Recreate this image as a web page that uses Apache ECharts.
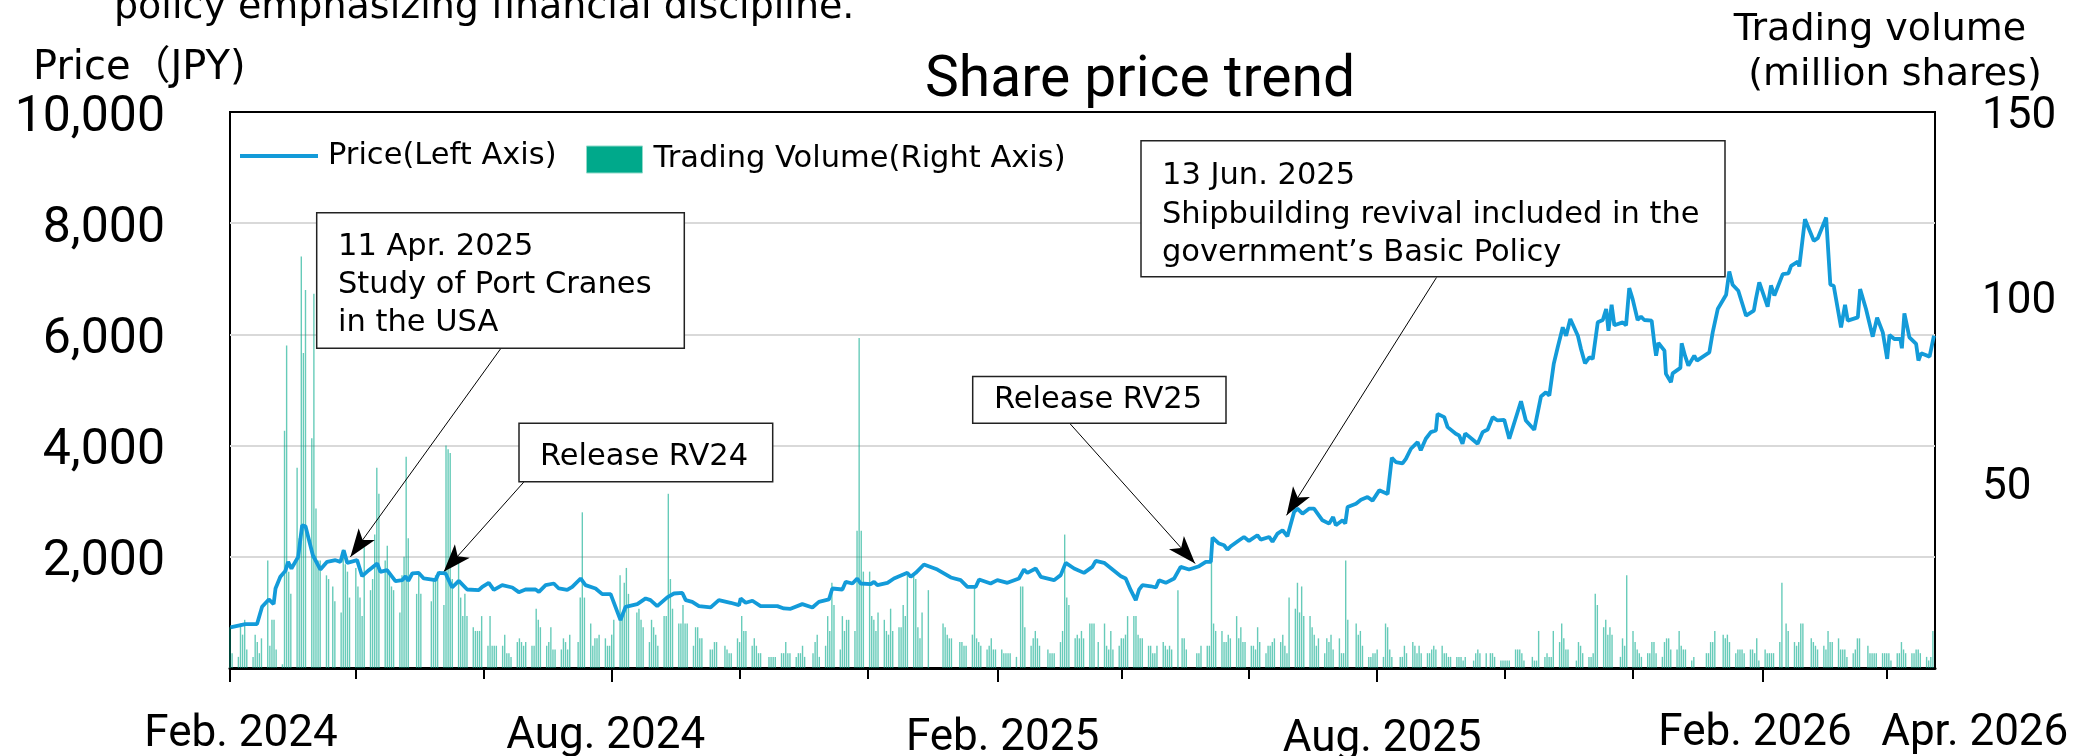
<!DOCTYPE html>
<html lang="en">
<head>
<meta charset="utf-8">
<title>Share price trend</title>
<style>
    html, body { margin: 0; padding: 0; background: #fff; }
</style>
</head>
<body>
<div id="main" style="width: 2094px;height:756px;"></div>
<script src="https://cdn.jsdelivr.net/npm/echarts@6/dist/echarts.min.js"></script>
<script>
    // x axis is "days since 1 Feb 2024"
    var START = Date.UTC(2024, 1, 1);
    var LAST_DAY = 812;
    function dayOf(s) { return (Date.parse(s + 'T00:00:00Z') - START) / 864e5; }

    // tick marks every two months, labels on some of them
    var tickDates = ['2024-02-01', '2024-04-01', '2024-06-01', '2024-08-01', '2024-10-01', '2024-12-01',
        '2025-02-01', '2025-04-01', '2025-06-01', '2025-08-01', '2025-10-01', '2025-12-01',
        '2026-02-01', '2026-04-01'];
    var labelDates = ['2024-02-01', '2024-08-01', '2025-02-01', '2025-08-01', '2026-02-01', '2026-04-01'];
    var xLabels = ['Feb. 2024', 'Aug. 2024', 'Feb. 2025', 'Aug. 2025', 'Feb. 2026', 'Apr. 2026'];

    var priceTicks = [0, 2000, 4000, 6000, 8000, 10000];
    var volumeTicks = [0, 50, 100, 150];

    // price (JPY): [day, price]
    var pricePoints = [
        [0.2,730],[7.3,790],[12.9,790],[15.3,1100],[18.5,1233],[20.8,1149],[21.7,1430],[24.0,1640],[26.4,1747],[27.7,1909],
        [29.3,1789],[32.5,1998],[34.4,2567],[36.0,2550],[39.5,2028],[43.1,1771],[46.3,1909],[50.3,1939],[52.7,1909],[54.2,2118],
        [55.9,1891],[60.6,1939],[63.0,1651],[66.2,1759],[70.2,1879],[71.7,1729],[74.9,1759],[78.9,1562],[82.1,1580],[83.7,1651],
        [85.0,1568],[86.9,1700],[90.0,1710],[92.4,1610],[98.0,1580],[99.6,1710],[102.8,1700],[105.9,1448],[109.1,1568],[113.1,1412],
        [118.6,1400],[120.3,1460],[123.4,1532],[125.8,1406],[129.8,1490],[134.6,1448],[137.7,1364],[140.9,1412],[145.7,1412],[147.3,1370],
        [150.5,1490],[154.4,1520],[156.8,1430],[160.8,1406],[163.2,1460],[167.2,1610],[169.5,1490],[174.3,1430],[177.5,1328],[181.5,1328],
        [186.2,862],[188.6,1100],[194.2,1149],[198.2,1251],[200.5,1221],[203.7,1113],[208.5,1270],[211.7,1340],[215.7,1350],[217.3,1221],
        [220.4,1190],[223.6,1113],[229.2,1089],[233.1,1221],[238.7,1173],[242.7,1130],[243.5,1251],[245.9,1173],[249.1,1209],[253.0,1113],
        [261.0,1113],[264.1,1071],[267.3,1065],[272.9,1149],[277.7,1089],[280.8,1190],[285.6,1233],[287.2,1430],[292.0,1412],[293.6,1550],
        [296.8,1520],[299.1,1610],[300.7,1520],[305.5,1508],[307.1,1550],[308.7,1490],[313.5,1532],[316.6,1610],[323.0,1711],[324.6,1640],
        [327.0,1711],[330.9,1861],[337.3,1771],[343.7,1628],[348.4,1580],[351.6,1460],[355.6,1460],[357.2,1592],[362.7,1520],[365.9,1580],
        [370.7,1532],[376.2,1610],[378.6,1771],[380.2,1710],[384.2,1789],[386.6,1640],[392.9,1580],[396.1,1670],[398.5,1891],[402.5,1789],
        [407.2,1711],[411.2,1819],[412.8,1927],[416.8,1891],[420.8,1771],[424.8,1651],[427.1,1610],[429.5,1400],[431.9,1221],[433.5,1412],
        [435.1,1490],[439.1,1470],[441.5,1448],[443.0,1580],[446.2,1532],[450.2,1610],[453.3,1819],[457.3,1771],[462.1,1831],[465.3,1909],
        [467.7,1909],[468.5,2345],[471.6,2238],[474.0,2208],[475.6,2130],[477.2,2190],[481.2,2298],[483.5,2357],[485.9,2286],[489.9,2387],
        [491.5,2310],[495.5,2357],[497.1,2270],[499.5,2417],[501.9,2477],[504.2,2369],[507.4,2806],[509.0,2866],[511.4,2776],[514.5,2866],
        [516.9,2866],[520.9,2657],[524.1,2597],[526.0,2716],[527.3,2567],[530.5,2657],[531.8,2600],[532.9,2896],[536.9,2956],[539.3,3028],
        [542.4,3076],[544.8,3010],[548.0,3195],[552.0,3130],[554.0,3781],[555.9,3704],[559.1,3680],[560.7,3760],[563.1,3943],[566.3,4063],
        [567.8,3915],[570.2,4123],[572.6,4242],[575.0,4272],[575.8,4571],[579.0,4512],[580.6,4332],[584.5,4213],[586.1,4183],[587.7,4033],
        [589.0,4220],[592.5,4110],[594.9,4033],[597.3,4242],[599.7,4290],[602.1,4511],[604.4,4452],[607.6,4464],[610.0,4123],[615.6,4798],
        [617.9,4452],[621.9,4284],[625.1,4882],[627.5,4960],[629.1,4900],[631.2,5469],[633.1,5768],[635.5,6127],[637.1,5977],[639.1,6277],
        [642.7,5977],[644.2,5738],[646.1,5481],[648.2,5589],[649.8,5559],[652.2,6217],[654.6,6259],[656.2,6456],[657.3,6067],[658.8,6534],
        [660.1,6164],[664.1,6217],[665.7,6164],[667.2,6833],[668.8,6640],[671.2,6259],[672.8,6318],[674.4,6259],[677.9,6247],[679.2,5828],
        [680.0,5618],[681.1,5846],[684.0,5708],[684.7,5290],[687.1,5139],[687.9,5300],[691.6,5397],[692.2,5840],[693.8,5618],[695.4,5438],
        [698.2,5618],[699.5,5529],[705.4,5678],[707.0,6037],[709.4,6456],[713.4,6713],[714.9,7132],[716.5,6893],[719.2,6785],[722.9,6336],
        [726.6,6426],[727.6,6640],[729.2,6934],[733.2,6500],[734.8,6880],[736.4,6700],[740.4,7084],[743.1,7096],[744.4,7234],[747.6,7310],
        [748.3,7220],[751.0,8071],[755.2,7683],[757.1,7730],[761.1,8102],[763.1,6893],[764.7,6875],[768.2,6127],[770.1,6534],[771.4,6247],
        [776.2,6307],[777.3,6815],[780.1,6456],[783.3,5959],[785.4,6300],[788.1,6037],[790.2,5559],[791.3,5990],[793.6,5917],[796.5,5917],
        [797.2,5750],[798.4,6378],[800.8,5947],[804.0,5828],[805.1,5529],[806.4,5660],[810.4,5600],[812.5,5977]
    ];

    // trading volume (million shares), one value per weekday, month by month from Feb 2024
    var volumeByMonth = [
        [11,4,3,12,9,13,5,3,9,7,4,8,29,6,13,13,5,1,64,87,26],              // 2024-02
        [20,54,35,111,85,102,62,101,43,29,29,25,24,0,22,18,15,32,28,26,19],
        [27,22,19,14,34,21,24,36,54,47,29,33,26,22,21,15,25,30,57,35,0,20],
        [26,20,0,0,18,24,25,26,17,60,59,58,24,29,19,14,20,14,11,10,10,10,14],
        [6,14,6,6,6,6,9,4,4,3,7,8,7,6,7,6,6,16,13,11],
        [6,7,11,5,5,5,8,7,5,9,0,7,19,42,19,12,6,8,8,9,8,6,6],
        [9,13,25,15,23,27,20,0,15,16,13,11,7,13,11,9,6,14,14,47,24,16],
        [12,12,17,12,12,6,11,11,8,8,0,5,5,7,7,0,6,5,4,4,8],
        [7,14,10,10,6,8,6,4,4,0,3,3,3,3,4,4,7,4,4,3,4,4,6],
        [3,0,4,7,9,3,6,14,10,23,17,5,14,10,13,13,10,37,89,37,26],
        [26,14,13,10,15,13,10,9,16,10,11,11,17,14,25,25,24,11,8,15,21,0],
        [0,0,0,12,11,9,8,8,0,7,7,6,6,9,22,8,7,6,5,6,8,5,5],              // 2025-01
        [5,4,4,4,4,3,0,22,22,11,6,8,10,8,6,0,5,4,4,4],
        [7,10,36,19,17,8,9,8,10,8,12,12,12,0,7,12,6,5,10,5,6],
        [8,8,9,14,14,14,9,8,8,6,6,4,4,6,7,6,5,6,5,21,0,8],
        [8,5,0,0,4,4,6,6,6,30,12,10,10,7,7,9,8,14,8,11,7,7],
        [6,6,5,11,7,4,6,6,7,8,7,9,6,4,19,16,23,15,22,14,14],
        [11,9,6,8,4,8,7,9,5,8,4,4,29,13,0,12,9,10,6,3,3,4,4],
        [5,3,12,11,5,3,0,3,3,6,4,7,6,4,6,4,4,4,5,6,5],
        [6,4,4,3,3,3,3,3,2,3,0,2,4,5,4,4,0,4,4,3,2,2],
        [2,2,2,5,5,5,4,2,0,3,2,2,10,3,4,3,3,10,7,12,8,5,5],
        [0,2,7,6,4,3,3,4,20,17,11,13,9,11,9,0,3,8,6,25],
        [10,7,5,4,3,4,4,7,7,4,3,7,8,8,5,5,10,6,5,5,2,3,0],
        [0,0,4,4,7,7,10,0,9,8,9,7,4,5,5,5,4,5,5,4,8,2],                 // 2026-01
        [5,4,4,4,4,7,23,0,12,10,7,6,7,12,12,0,8,7,6,5],
        [6,5,10,7,7,8,5,5,5,3,4,5,8,8,0,6,4,4,4,4,4,4],
        [4,4,2,4,4,7,5,4,4,4,5,5,4,3,2,3,10]
    ];

    // annotation arrows: [from, to] in [day, price]
    var arrowLines = [
        [[129.0, 5740], [57.4, 1998]],
        [[140.1, 3344], [101.9, 1729]],
        [[400.6, 4392], [460.2, 1879]],
        [[575.3, 7024], [503.8, 2746]]
    ];
    var notes = [
        ['11 Apr. 2025', 'Study of Port Cranes', 'in the USA'],
        ['Release RV24'],
        ['Release RV25'],
        ['13 Jun. 2025', 'Shipbuilding revival included in the', 'government\u2019s Basic Policy']
    ];

    // ---- build data ----
    var tickDays = tickDates.map(dayOf);
    var labelDays = labelDates.map(dayOf);

    var volumeData = [];
    volumeByMonth.forEach(function (vals, k) {
        var y = 2024 + Math.floor((1 + k) / 12), m = (1 + k) % 12;
        var days = [];
        for (var d = 1; d <= 31; d++) {
            var t = Date.UTC(y, m, d), dt = new Date(t);
            if (dt.getUTCMonth() !== m) break;
            var off = (t - START) / 864e5;
            if (dt.getUTCDay() === 0 || dt.getUTCDay() === 6 || off > LAST_DAY) continue;
            days.push(off);
        }
        vals.forEach(function (v, i) {
            if (i < days.length) volumeData.push([days[i], v]);
        });
    });

    // small nudges of the date labels [dx, dy]
    var labelNudge = [[11, 3], [-6, 8], [5, 12], [5, 14], [-8, 2], [88, 2]];
    var rich = {};
    labelNudge.forEach(function (n, i) {
        rich['l' + i] = {
            fontFamily: 'Roboto', fontSize: 44, lineHeight: 44, color: '#000',
            padding: [n[1], n[0] < 0 ? -2 * n[0] : 0, 0, n[0] > 0 ? 2 * n[0] : 0]
        };
    });
    function dateLabel(v) {
        var i = labelDays.indexOf(v);
        return i < 0 ? '' : '{l' + i + '|' + xLabels[i] + '}';
    }

    // boxes for the notes (pixels)
    var noteBoxes = [
        {x: 316.7, y: 212.7, w: 367.6, h: 135.6, tx: 338, ty: 227.5},
        {x: 519, y: 423.3, w: 253.7, h: 58.4, tx: 540, ty: 438},
        {x: 972.7, y: 376.6, w: 253.3, h: 46.7, tx: 994, ty: 381},
        {x: 1141, y: 140.7, w: 584, h: 136, tx: 1162, ty: 157}
    ];
    var graphics = [];
    noteBoxes.forEach(function (b, i) {
        graphics.push({
            type: 'rect', z: 50,
            shape: {x: b.x, y: b.y, width: b.w, height: b.h},
            style: {fill: '#fff', stroke: '#222', lineWidth: 1.5}
        });
        graphics.push({
            type: 'text', z: 51, x: b.tx, y: b.ty,
            style: {
                text: notes[i].join('\n'), fontFamily: 'DejaVu Sans', fontSize: 30.5, lineHeight: 38.4,
                fill: '#000', align: 'left', verticalAlign: 'top', textAlign: 'left', textVerticalAlign: 'top'
            }
        });
    });
    function label(text, x, y, size, family, align) {
        return {
            type: 'text', z: 51, x: x, y: y,
            style: {
                text: text, fontFamily: family, fontSize: size, fill: '#000',
                align: align, verticalAlign: 'middle', textAlign: align, textVerticalAlign: 'middle'
            }
        };
    }
    graphics.push(label('policy emphasizing financial discipline.', 114, 8.5, 38, 'DejaVu Sans', 'left'));
    graphics.push(label('Price\uFF08JPY)', 33, 69, 40, "'DejaVu Sans', 'Noto Sans CJK JP'", 'left'));
    graphics.push(label('Share price trend', 1140, 82, 57, 'Roboto', 'center'));
    graphics.push(label('Trading volume', 1880, 30, 38, 'DejaVu Sans', 'center'));
    graphics.push(label('(million shares)', 1895, 75, 38, 'DejaVu Sans', 'center'));

    var myChart = echarts.init(document.getElementById('main'));
    var option = {
        animation: false,
        backgroundColor: '#fff',
        textStyle: {fontFamily: 'Roboto'},
        grid: {
            left: 230, right: 159, top: 112, bottom: 88,
            outerBoundsMode: 'none',
            show: true, borderColor: '#000', borderWidth: 2, backgroundColor: 'transparent'
        },
        legend: [{
            data: [{name: 'Price(Left Axis)', icon: 'rect', itemStyle: {color: '#139bd9'}}],
            left: 240, top: 140, padding: 0, selectedMode: false,
            itemWidth: 78, itemHeight: 4,
            textStyle: {fontFamily: 'DejaVu Sans', fontSize: 30.5, lineHeight: 32, color: '#000', padding: [0, 0, 0, 5]}
        }, {
            data: [{
                name: 'Trading Volume(Right Axis)', icon: 'rect',
                itemStyle: {color: '#00a98b', opacity: 1, borderColor: '#8fdac9', borderWidth: 1}
            }],
            left: 586, top: 143.5, padding: 0, selectedMode: false,
            itemWidth: 56, itemHeight: 27,
            textStyle: {fontFamily: 'DejaVu Sans', fontSize: 30.5, lineHeight: 32, color: '#000', padding: [0, 0, 0, 6]}
        }],
        xAxis: [{
            // axis line and the short two-month ticks
            type: 'value', min: 0, max: LAST_DAY + 1,
            axisLine: {show: true, lineStyle: {color: '#000', width: 3}},
            axisTick: {show: true, customValues: tickDays, length: 11, lineStyle: {color: '#000', width: 2}},
            axisLabel: {show: false},
            splitLine: {show: false}
        }, {
            // long ticks + labels
            type: 'value', min: 0, max: LAST_DAY + 1, position: 'bottom',
            axisLine: {show: false},
            axisTick: {show: true, customValues: labelDays.slice(0, 5), length: 14, lineStyle: {color: '#000', width: 2}},
            axisLabel: {
                show: true, customValues: labelDays.slice(0, 5), margin: 43, hideOverlap: false,
                formatter: dateLabel, rich: rich
            },
            splitLine: {show: false}
        }, {
            // last label sits right of its tick
            type: 'value', min: 0, max: LAST_DAY + 1, position: 'bottom',
            axisLine: {show: false},
            axisTick: {show: false},
            axisLabel: {
                show: true, customValues: labelDays.slice(5), margin: 43, hideOverlap: false,
                formatter: dateLabel, rich: rich
            },
            splitLine: {show: false}
        }],
        yAxis: [{
            type: 'value', min: priceTicks[0], max: priceTicks[priceTicks.length - 1], interval: 2000,
            axisLine: {show: false}, axisTick: {show: false},
            axisLabel: {
                margin: 65,
                formatter: function (v) { return v === 0 ? '' : '{a|' + v.toLocaleString('en-US') + '}'; },
                rich: {a: {fontFamily: 'Roboto', fontSize: 50, color: '#000', padding: [12, 0, 0, 0]}}
            },
            splitLine: {show: true, showMinLine: false, showMaxLine: false, lineStyle: {color: '#d9d9d9', width: 2}}
        }, {
            type: 'value', min: volumeTicks[0], max: volumeTicks[volumeTicks.length - 1], interval: 50,
            position: 'right',
            axisLine: {show: false}, axisTick: {show: false},
            axisLabel: {
                margin: 47,
                formatter: function (v) { return v === 0 ? '' : '{b|' + v + '}'; },
                rich: {b: {fontFamily: 'Roboto', fontSize: 44, color: '#000', padding: [10, 0, 0, 0]}}
            },
            splitLine: {show: false}
        }],
        series: [{
            name: 'Trading Volume(Right Axis)',
            type: 'bar',
            xAxisIndex: 0, yAxisIndex: 1,
            data: volumeData,
            barWidth: 1.4,
            itemStyle: {color: '#00a98b', opacity: 0.6},
            z: 2
        }, {
            name: 'Price(Left Axis)',
            type: 'line',
            xAxisIndex: 0, yAxisIndex: 0,
            data: pricePoints,
            symbol: 'none', showSymbol: false,
            lineStyle: {color: '#139bd9', width: 3.8},
            itemStyle: {color: '#139bd9'},
            z: 5,
            markLine: {
                silent: true, animation: false,
                symbol: ['none', 'arrow'], symbolSize: [15, 28],
                lineStyle: {color: '#000', width: 1, type: 'solid'},
                label: {show: false},
                data: arrowLines.map(function (a) { return [{coord: a[0]}, {coord: a[1]}]; })
            }
        }],
        graphic: {elements: graphics}
    };
    myChart.setOption(option);
</script>
</body>
</html>
